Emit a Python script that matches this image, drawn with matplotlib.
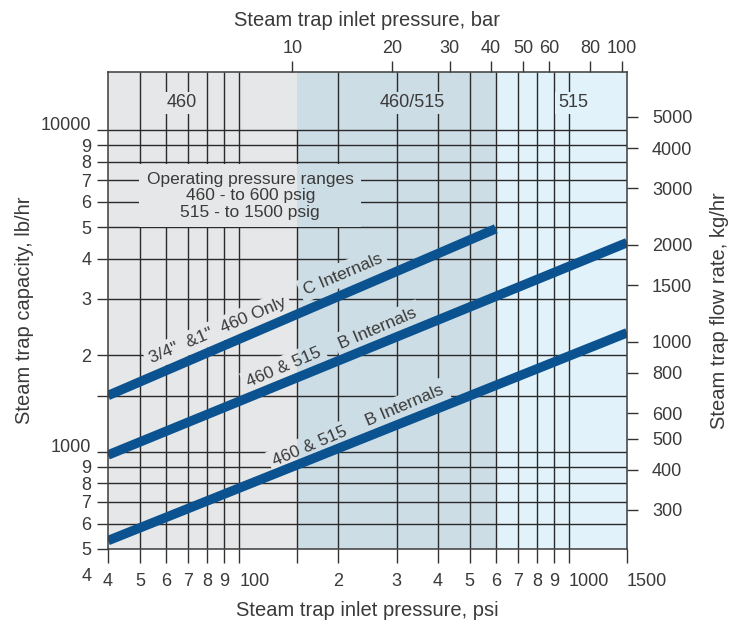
import numpy as np
import matplotlib.pyplot as plt
from matplotlib.patches import Rectangle
from matplotlib.ticker import NullLocator

plt.rcParams['font.family'] = ['Liberation Sans', 'DejaVu Sans']

# --- values ---
psi_ticks = [40, 50, 60, 70, 80, 90, 100, 150, 200, 300, 400, 500, 600, 700, 800, 900, 1000, 1500]
psi_labels = ['4', '5', '6', '7', '8', '9', '100', '', '2', '3', '4', '5', '6', '7', '8', '9', '1000', '1500']
bar_ticks = [10, 20, 30, 40, 50, 60, 80, 100]
lb_ticks = [500, 600, 700, 800, 900, 1000, 1500, 2000, 3000, 4000, 5000, 6000, 7000, 8000, 9000, 10000]
lb_labels = ['5', '6', '7', '8', '9', '1000', '', '2', '3', '4', '5', '6', '7', '8', '9', '10000']
kg_ticks = [300, 400, 500, 600, 800, 1000, 1500, 2000, 3000, 4000, 5000]

# pressure bands (psi) and their names
band_edges = [40, 150, 600, 1500]
band_names = ['460', '460/515', '515']
band_colors = ['#e6e7e8', '#cddde5', '#e1f2fa']

# capacity lines: psi -> lb/hr
c_psi = [40, 600]
c_lb = [1500, 4950]
b_top_psi = [40, 1500]
b_top_lb = [980, 4480]
b_low_psi = [40, 1500]
b_low_lb = [531, 2350]

PSI_PER_BAR = 14.5038
KG_PER_LB = 0.4536

XMIN, XMAX = 40, 1500
YMIN, YMAX = 500, 15200
FS = 12.5      # labels inside the chart
TFS = 13       # tick labels
AFS = 14.5     # axis titles
TXT = '#3a3a3a'
GRID = '#2a2a2a'
BLUE = '#0b5290'

fig = plt.figure(figsize=(7.35, 6.25), dpi=100)
ax = fig.add_axes([108 / 735, 1 - 549 / 625, 519 / 735, 477 / 625])
ax.set_xscale('log')
ax.set_yscale('log')
ax.set_xlim(XMIN, XMAX)
ax.set_ylim(YMIN, YMAX)

# background bands
for i, c in enumerate(band_colors):
    ax.axvspan(band_edges[i], band_edges[i + 1], color=c, lw=0, zorder=0)

# grid
ax.hlines(lb_ticks[1:], XMIN, XMAX, color=GRID, lw=1.0, zorder=1)
for p in psi_ticks[1:-1]:
    top = 10000 if p == 150 else YMAX
    ax.vlines(p, YMIN, top, color=GRID, lw=1.0, zorder=1)


def label(x, y, s, rot=0, pad=0.25, size=FS, **kw):
    # masks in the colour of each band, then the text itself
    for i, c in enumerate(band_colors):
        t = ax.text(x, y, s, rotation=rot, rotation_mode='anchor', ha='center', va='center',
                    fontsize=size, color='none', zorder=1.5, clip_on=True,
                    bbox=dict(boxstyle=f'square,pad={pad}', fc=c, ec='none'), **kw)
        t.set_clip_path(Rectangle((band_edges[i], YMIN), band_edges[i + 1] - band_edges[i],
                                  YMAX - YMIN, transform=ax.transData))
    ax.text(x, y, s, rotation=rot, rotation_mode='anchor', ha='center', va='center',
            fontsize=size, color=TXT, zorder=3, **kw)


# band names along the top
label(67, 12200, band_names[0], pad=0.15, size=13)
label(334, 12200, band_names[1], pad=0.15, size=13)
label(1029, 12200, band_names[2], pad=0.15, size=13)

label(108, 6260, 'Operating pressure ranges\n460 - to 600 psig\n515 - to 1500 psig',
      pad=0.45, multialignment='center', linespacing=1.1)

# capacity lines
for xs, ys in [(c_psi, c_lb), (b_top_psi, b_top_lb), (b_low_psi, b_low_lb)]:
    ax.plot(xs, ys, color=BLUE, lw=6.8, solid_capstyle='butt', zorder=2)

ROT = 23
label(86, 2390, '3/4"  &1"  460 Only', ROT)
label(206, 3580, 'C Internals', ROT)
label(137, 1836, '460 & 515', ROT)
label(263, 2430, 'B Internals', ROT)
label(164, 1042, '460 & 515', ROT)
label(318, 1398, 'B Internals', ROT)

# axes, ticks
for s in ax.spines.values():
    s.set_color('#3c3c3c')
    s.set_linewidth(1.1)

ax.xaxis.set_minor_locator(NullLocator())
ax.yaxis.set_minor_locator(NullLocator())
ax.set_xticks(psi_ticks, labels=psi_labels)
ax.set_yticks(lb_ticks, labels=lb_labels)
ax.tick_params(axis='x', direction='out', length=10, width=1.0, color='#333333',
               labelsize=TFS, labelcolor=TXT, pad=7)
ax.tick_params(axis='y', direction='out', length=8, width=1.0, color='#333333',
               labelsize=TFS, labelcolor=TXT, pad=4)
for t in ax.get_xticklabels():
    if len(t.get_text()) > 1:
        t.set_ha('left')
# the decade labels sit on top of their line
for t in ax.get_yticklabels():
    if len(t.get_text()) > 1:
        t.set_va('baseline')
ax.annotate('4', xy=(0, 400), xycoords=('axes fraction', 'data'), xytext=(-12, 3),
            textcoords='offset points', ha='right', va='center', fontsize=TFS, color=TXT,
            annotation_clip=False)

ax.set_xlabel('Steam trap inlet pressure, psi', fontsize=AFS, color=TXT, labelpad=8)
ax.set_ylabel('Steam trap capacity, lb/hr', fontsize=AFS, color=TXT, labelpad=5)

top = ax.secondary_xaxis('top', functions=(lambda p: p / PSI_PER_BAR, lambda b: b * PSI_PER_BAR))
top.set_xticks(bar_ticks, labels=[str(b) for b in bar_ticks])
top.xaxis.set_minor_locator(NullLocator())
top.tick_params(direction='out', length=8, width=1.0, color='#333333',
                labelsize=TFS, labelcolor=TXT, pad=3)
top.spines['top'].set_visible(False)
top.set_xlabel('Steam trap inlet pressure, bar', fontsize=AFS, color=TXT, labelpad=10)

right = ax.secondary_yaxis('right', functions=(lambda lb: lb * KG_PER_LB, lambda kg: kg / KG_PER_LB))
right.set_yticks(kg_ticks, labels=[str(k) for k in kg_ticks])
right.yaxis.set_minor_locator(NullLocator())
right.tick_params(direction='out', length=8, width=1.0, color='#333333',
                  labelsize=TFS, labelcolor=TXT, pad=10)
right.spines['right'].set_visible(False)
right.set_ylabel('Steam trap flow rate, kg/hr', fontsize=AFS, color=TXT, labelpad=13)

fig.savefig('out.png', dpi=100)
